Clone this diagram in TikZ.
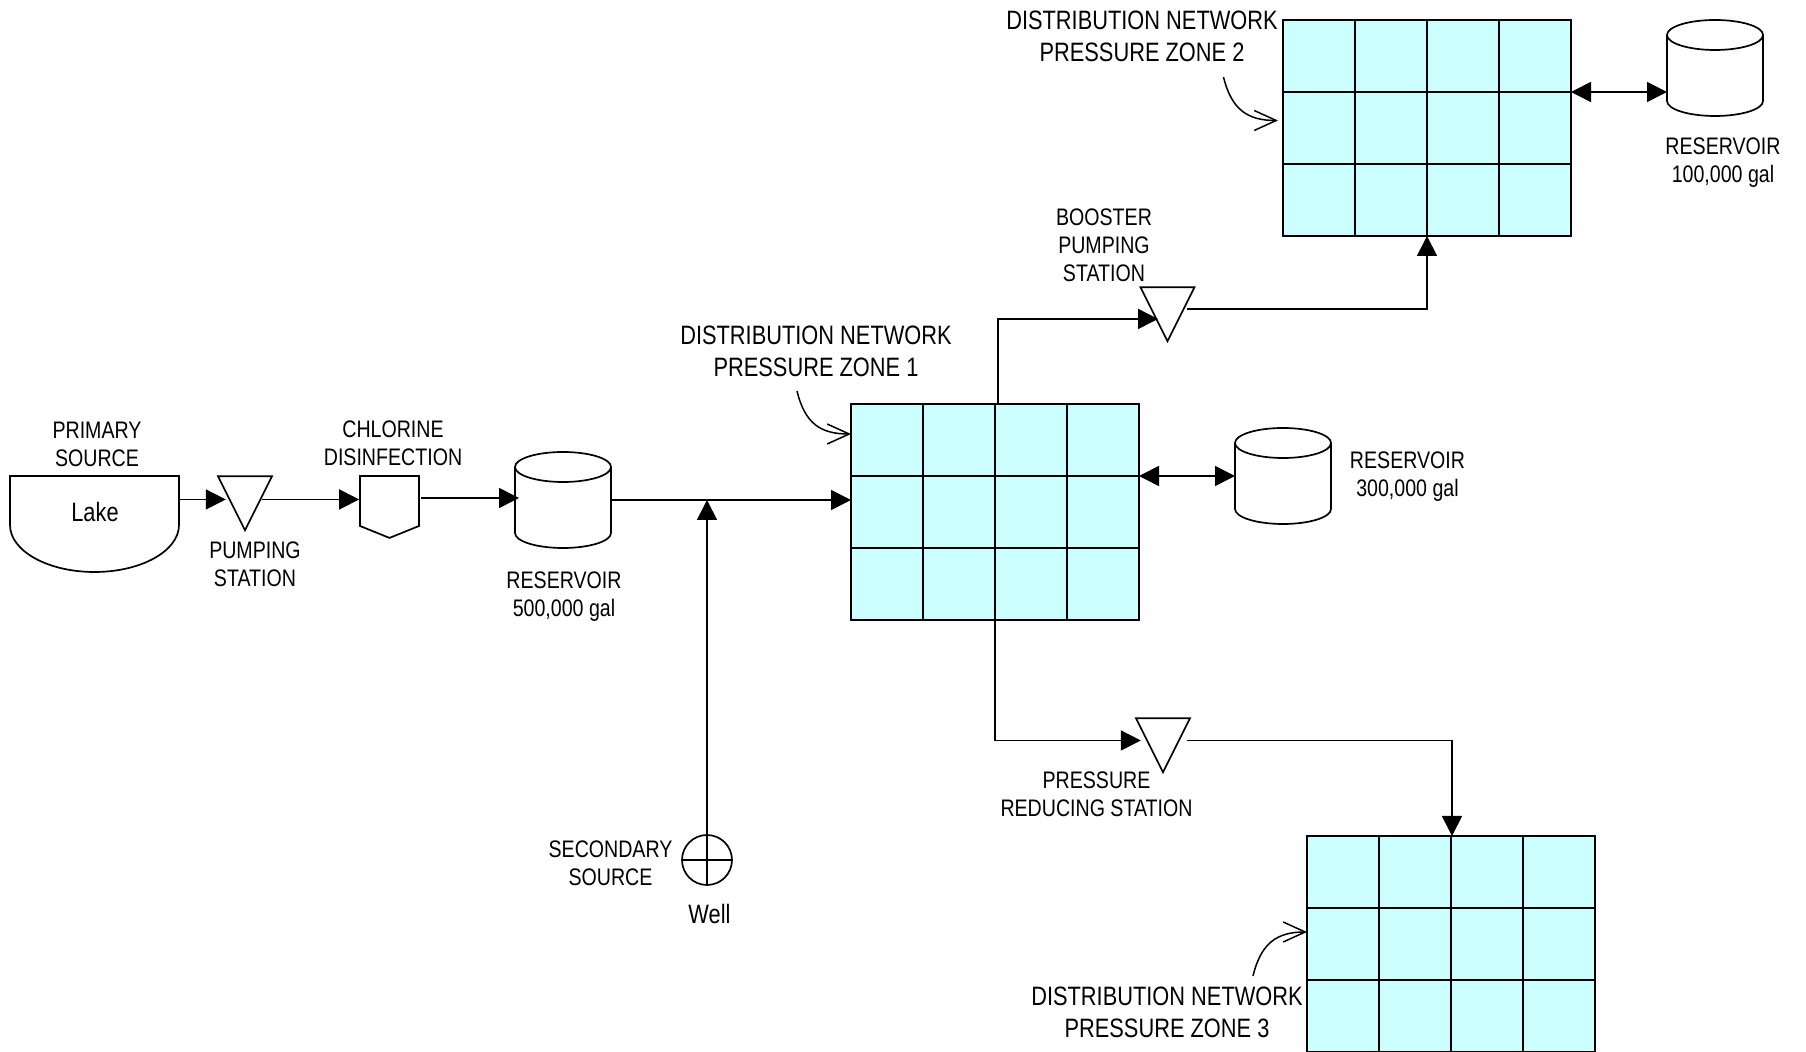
\documentclass[tikz,border=0pt]{standalone}
\usepackage{fontspec}
\setmainfont{Liberation Sans}[FakeStretch=0.82]
\usetikzlibrary{arrows.meta,shapes.geometric,shapes.symbols,calc}
\definecolor{ZoneCyan}{RGB}{204,255,255}
\tikzset{
  %% labels
  lbl/.style={font=\fontsize{11.95}{14}\selectfont,align=center,inner sep=0pt},
  zonelbl/.style={font=\fontsize{13.3}{16}\selectfont,align=center,inner sep=0pt},
  %% distribution network grid
  zonebox/.style={rectangle,draw=black,fill=ZoneCyan,line width=0.85pt,outer sep=0pt,
                  minimum width=144pt,minimum height=108pt,anchor=north west,
                  path picture={
                    \foreach \k in {1,2,3}
                      \draw[line width=0.85pt]
                        ($(path picture bounding box.north west)!\k/4!(path picture bounding box.north east)$)
                        -- ($(path picture bounding box.south west)!\k/4!(path picture bounding box.south east)$);
                    \foreach \k in {1,2}
                      \draw[line width=0.85pt]
                        ($(path picture bounding box.north west)!\k/3!(path picture bounding box.south west)$)
                        -- ($(path picture bounding box.north east)!\k/3!(path picture bounding box.south east)$);
                  }},
  %% equipment
  tankbox/.style={rectangle,minimum width=48pt,minimum height=48pt,inner sep=0pt,outer sep=0pt},
  tankline/.style={draw=black,line width=0.85pt},
  pumptri/.style={isosceles triangle,shape border rotate=-90,isosceles triangle stretches,
                  draw=black,line width=0.85pt,minimum width=27pt,minimum height=27pt,
                  inner sep=0pt,anchor=apex},
  dosebox/.style={signal,signal to=south,signal pointer angle=136,draw=black,line width=0.85pt,
                  minimum width=29.5pt,minimum height=25pt,inner sep=0pt},
  wellbox/.style={circle,draw=black,line width=0.85pt,minimum size=25pt,inner sep=0pt,
                  path picture={
                    \draw[line width=0.85pt] (path picture bounding box.north) -- (path picture bounding box.south);
                    \draw[line width=0.85pt] (path picture bounding box.west) -- (path picture bounding box.east);
                  }},
  lakebox/.style={rectangle,minimum width=84.5pt,minimum height=48pt,inner sep=0pt,outer sep=0pt},
  %% arrows
  flowarr/.style={-{Triangle[length=10pt,width=10pt]},line width=0.85pt},
  bothway/.style={{Triangle[length=10pt,width=10pt]}-{Triangle[length=10pt,width=10pt]},line width=0.85pt},
  callarr/.style={-{Straight Barb[length=11pt,width=10pt]},line width=0.75pt},
}
\begin{document}
\begin{tikzpicture}[x=0.5pt,y=-0.5pt]
  \useasboundingbox (0,0) rectangle (1806,1052);

  %% -- source and treatment --
  \node[lakebox] (lake) at (94.5,524) {};
  \draw[line width=0.85pt] (lake.north west) -- (lake.north east) -- ++(0,49)
    arc[start angle=0,end angle=180,x radius=84.5,y radius=47] -- cycle;
  \node[zonelbl] (laketxt) at (95,512) {Lake};
  \node[lbl] (primtxt) at (97,444.5) {PRIMARY\\SOURCE};

  \node[pumptri] (pump1) at (245,532.5) {};
  \node[lbl] (pump1txt) at (255,564) {PUMPING\\STATION};

  \node[dosebox] (chlor) at (389.5,501) {};
  \node[lbl] (chlortxt) at (393,443.5) {CHLORINE\\DISINFECTION};

  \node[tankbox] (res1) at (563,500) {};
  \node[lbl] (res1txt) at (564,597) {RESERVOIR\\500,000 gal};

  %% -- well --
  \node[wellbox] (well) at (707,860) {};
  \node[zonelbl] (welltxt) at (709.5,913.5) {Well};
  \node[lbl] (secntxt) at (610.5,863) {SECONDARY\\SOURCE};

  %% -- pressure zones --
  \node[zonebox] (zone1) at (851,404) {};
  \node[zonebox] (zone2) at (1283,20) {};
  \node[zonebox] (zone3) at (1307,836) {};
  \node[zonelbl] (zone1txt) at (816,351) {DISTRIBUTION NETWORK\\PRESSURE ZONE 1};
  \node[zonelbl] (zone2txt) at (1142,36) {DISTRIBUTION NETWORK\\PRESSURE ZONE 2};
  \node[zonelbl] (zone3txt) at (1167,1012) {DISTRIBUTION NETWORK\\PRESSURE ZONE 3};

  \node[tankbox] (res2) at (1283,476) {};
  \node[lbl] (res2txt) at (1407.5,476.5) {RESERVOIR\\300,000 gal};
  \node[tankbox] (res3) at (1715,68) {};
  \node[lbl] (res3txt) at (1723,162.5) {RESERVOIR\\100,000 gal};

  \foreach \t in {res1,res2,res3} {
    \draw[tankline] ($(\t.north)+(0,15)$) ellipse[x radius=48,y radius=15];
    \draw[tankline] ($(\t.north west)+(0,15)$) -- ($(\t.south west)+(0,-15)$)
      arc[start angle=180,end angle=0,x radius=48,y radius=15] -- ($(\t.north east)+(0,15)$);
  }

  \node[pumptri] (boost) at (1167.5,343.5) {};
  \node[lbl] (boosttxt) at (1104,245) {BOOSTER\\PUMPING\\STATION};
  \node[pumptri] (prv) at (1163,774.5) {};
  \node[lbl] (prvtxt) at (1096.5,794.5) {PRESSURE\\REDUCING STATION};

  %% -- main line --
  \coordinate (p1in) at ([shift={(-5,-4.5)}]pump1.right side);
  \coordinate (p1out) at ([shift={(2.5,-4.5)}]pump1.left side);
  \draw[flowarr] (lake.north east |- p1in) -- (p1in);
  \draw[flowarr] (p1out) -- (p1out -| chlor.west);
  \draw[flowarr] ([yshift=1.5pt,xshift=0.5pt]chlor.east) -- ([xshift=2pt,yshift=1pt]res1.west);
  \draw[flowarr] (res1.east) -- (res1.east -| zone1.west);
  \draw[flowarr] (well) -- (well |- res1.east);

  %% -- zones --
  \draw[bothway] (zone1.east |- res2.west) -- (res2.west);
  \coordinate (z2east) at (1571,92);
  \draw[bothway] (z2east) -- (z2east -| res3.west);
  \draw[flowarr] ([xshift=1.5pt]zone1.north) |- ([shift={(4.75,4)}]boost.right side);
  \draw[flowarr] ([shift={(5.75,-6)}]boost.left side) -| (zone2.south);
  \draw[flowarr] (zone1.south) |- ([shift={(-8,-5.5)}]prv.right side);
  \draw[flowarr] ([shift={(9.5,-5.5)}]prv.left side) -| ([xshift=0.5pt]zone3.north);

  %% -- callouts --
  \coordinate (z1tail) at (797,391);
  \coordinate (z2tail) at (1223.5,77);
  \coordinate (z3tail) at (1253,976);
  \draw[callarr] (z1tail) .. controls +(8,33) and +(-30,0) .. (zone1.north west |- 0,434);
  \draw[callarr] (z2tail) .. controls +(8,33) and +(-30,0) .. (1278,120.5);
  \draw[callarr] (z3tail) .. controls +(8,-33) and +(-30,0) .. (zone3.north west |- 0,932);
\end{tikzpicture}
\end{document}
